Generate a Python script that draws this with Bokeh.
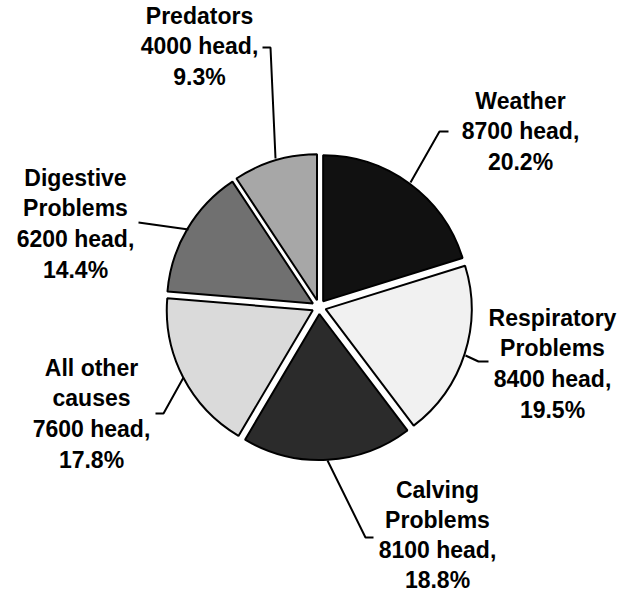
import math
from bokeh.plotting import figure
from bokeh.models import Range1d
from bokeh.core.properties import value
from bokeh.embed import file_html
from bokeh.resources import INLINE

# ---- data ----
categories = ["Weather", "Respiratory Problems", "Calving Problems",
              "All other causes", "Digestive Problems", "Predators"]
name_lines = [["Weather"], ["Respiratory", "Problems"], ["Calving", "Problems"],
              ["All other", "causes"], ["Digestive", "Problems"], ["Predators"]]
heads = [8700, 8400, 8100, 7600, 6200, 4000]
percents = [20.2, 19.5, 18.8, 17.8, 14.4, 9.3]
colors = ["#111111", "#f1f1f1", "#2b2b2b", "#dadada", "#707070", "#a7a7a7"]

W, H = 632, 594
def X(sx):
    return sx
def Y(sy):
    return H - sy

p = figure(width=W, height=H, output_backend="svg", toolbar_location=None,
           x_range=Range1d(0, W), y_range=Range1d(0, H), min_border=0,
           outline_line_color=None)
p.axis.visible = False
p.grid.visible = False

cx, cy = X(318.5), Y(306.5)
R = 146
explode = 7

total = sum(percents)
cum = 0.0
for pct, col in zip(percents, colors):
    a0 = math.pi / 2 - 2 * math.pi * cum / total
    a1 = math.pi / 2 - 2 * math.pi * (cum + pct) / total
    mid = (a0 + a1) / 2
    ox = cx + explode * math.cos(mid)
    oy = cy + explode * math.sin(mid)
    p.wedge(x=ox, y=oy, radius=R, start_angle=a0, end_angle=a1,
            direction="clock", fill_color=col, line_color="black", line_width=2)
    cum += pct

# ---- label layout (screen coords) ----
label_x = [520, 552, 437, 91, 75, 199]
label_y0 = [100, 317, 489, 367, 177, 15]
line_gaps = [30.8, 30.8, 30.2, 30.8, 30.8, 30.8]
leaders = [
    [(448, 131), (439, 131), (410, 182)],
    [(465, 355), (478, 361), (488, 361)],
    [(327, 460), (365, 537), (373, 537)],
    [(183, 377), (163, 413), (155, 413)],
    [(188, 229), (138, 222)],
    [(262, 47), (270, 47), (275, 158)],
]

for i in range(len(categories)):
    lines = name_lines[i] + [f"{heads[i]} head,", f"{percents[i]}%"]
    xs = [X(label_x[i])] * len(lines)
    ys = [Y(label_y0[i] + k * line_gaps[i]) for k in range(len(lines))]
    p.text(x=xs, y=ys, text=lines, text_align="center", text_baseline="middle",
           text_font=value("Liberation Sans"), text_font_style="bold",
           text_font_size="23px", text_color="black")
    pts = leaders[i]
    p.line(x=[X(a) for a, b in pts], y=[Y(b) for a, b in pts],
           line_color="black", line_width=2)

open("out.html", "w").write(file_html(p, INLINE))
